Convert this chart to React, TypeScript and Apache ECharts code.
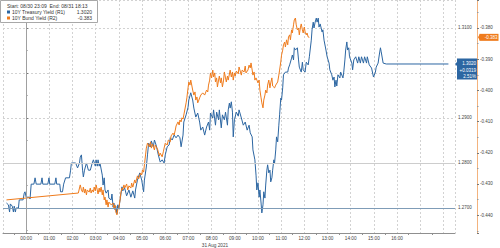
import React, { useEffect, useRef } from "react";
import * as echarts from "echarts";

const startLabel = "Start: 08/30 23:09  End: 08/31 18:13";
const treasuryName = "10Y Treasury Yield (R1)";
const bundName = "10Y Bund Yield (R2)";
const treasuryChange = "+0.0319";
const treasuryPct = "2.51%";
const dateLabel = "31 Aug 2021";

// minutes relative to 00:00 on 31 Aug 2021
const treasuryMinutes = [
  -51, -46, -43, -41, -36, -33, -31, -28, -26, -20, -18, -8, -5, -3, 0, 8, 10, 13, 20, 23, 26, 38, 41, 43, 56, 59, 61, 74, 77, 79, 87, 89, 94, 97, 102,
  112, 115, 117, 128, 133, 138, 140, 143, 146, 148, 151, 156, 161, 166, 171, 174, 179, 181, 184, 186, 189, 191, 197, 199, 202, 204, 207, 212, 214, 220,
  222, 225, 227, 230, 232, 235, 237, 240, 245, 248, 250, 255, 260, 266, 271, 276, 281, 283, 288, 294, 299, 304, 306, 311, 314, 317, 322, 324, 329, 332,
  337, 342, 347, 352, 357, 360, 365, 370, 373, 378, 383, 388, 393, 398, 401, 406, 408, 414, 419, 421, 426, 431, 434, 439, 444, 449, 452, 457, 462, 467,
  472, 475, 477, 483, 485, 490, 493, 498, 500, 505, 508, 513, 516, 521, 523, 526, 528, 531, 534, 536, 539, 544, 549, 551, 557, 562, 567, 572, 577, 580,
  585, 587, 592, 595, 597, 600, 603, 605, 608, 610, 613, 615, 618, 620, 623, 625, 628, 631, 633, 636, 638, 641, 643, 646, 648, 651, 654, 656, 659, 661,
  664, 666, 671, 677, 679, 682, 687, 689, 692, 694, 697, 702, 705, 707, 712, 715, 717, 722, 725, 730, 733, 735, 738, 740, 743, 745, 748, 751, 753, 756,
  758, 761, 766, 768, 771, 776, 779, 784, 786, 791, 794, 797, 799, 802, 804, 807, 812, 814, 820, 822, 825, 827, 830, 832, 835, 837, 843, 845, 848, 853,
  858, 861, 865, 868, 873, 876, 881, 883, 888, 894, 899, 904, 906, 911, 914, 917, 919, 924, 932, 1093,
];
const treasuryYield = [
  1.2711, 1.2707, 1.2691, 1.2709, 1.2704, 1.2691, 1.2704, 1.2691, 1.27, 1.27, 1.2718, 1.2718, 1.2733, 1.2736, 1.2724, 1.2724, 1.272, 1.2753, 1.2753, 1.2767,
  1.2753, 1.2753, 1.2767, 1.2753, 1.2753, 1.2767, 1.2753, 1.2753, 1.2767, 1.2753, 1.2753, 1.2736, 1.2736, 1.2753, 1.2767,
  1.2767, 1.2784, 1.28, 1.28, 1.2789, 1.28, 1.2813, 1.2818, 1.2784, 1.2769, 1.2784, 1.28, 1.2784, 1.2784, 1.28, 1.2807, 1.2793, 1.2807, 1.2793, 1.2807,
  1.2793, 1.28, 1.2773, 1.2751, 1.2767, 1.274, 1.2733, 1.274, 1.2722, 1.2718,
  1.2731, 1.2702, 1.2711, 1.2696, 1.2704, 1.2687, 1.2707, 1.27, 1.2729, 1.2747, 1.2738, 1.2744, 1.2727, 1.274, 1.2724, 1.2738, 1.2722, 1.274, 1.2762, 1.2778,
  1.2762, 1.2736, 1.2762, 1.2791, 1.2818, 1.2844, 1.2836, 1.2849, 1.2836, 1.2851,
  1.2838, 1.2818, 1.2802, 1.2807, 1.28, 1.2818, 1.2836, 1.284, 1.2856, 1.2851, 1.2862, 1.2856, 1.2862, 1.2856, 1.2836, 1.2862, 1.2891, 1.2907, 1.2924, 1.294,
  1.2956, 1.294, 1.2922, 1.2902, 1.2911, 1.2891, 1.2873, 1.288, 1.2862, 1.288,
  1.2891, 1.2873, 1.2911, 1.29, 1.2918, 1.2884, 1.2913, 1.2896, 1.2918, 1.2878, 1.2907, 1.2896, 1.2913, 1.2884, 1.2918, 1.2933, 1.2922, 1.2936, 1.2913, 1.2858,
  1.2896, 1.2913, 1.2904, 1.2918, 1.29, 1.2884, 1.2891, 1.2873, 1.2884, 1.2867,
  1.2858, 1.2829, 1.2807, 1.2773, 1.274, 1.2756, 1.2724, 1.274, 1.2711, 1.2689, 1.2707, 1.2736, 1.2722, 1.2751, 1.2784, 1.2796, 1.2778, 1.2784, 1.2758, 1.2767,
  1.2784, 1.2807, 1.28, 1.2829, 1.2858, 1.2847, 1.2884, 1.2907, 1.2944, 1.294,
  1.2967, 1.2996, 1.3002, 1.3002, 1.3011, 1.3018, 1.3033, 1.304, 1.3029, 1.3056, 1.3051, 1.3056, 1.3029, 1.3013, 1.3002, 1.3024, 1.3007, 1.3002, 1.3024, 1.3018,
  1.3036, 1.3051, 1.3073, 1.3096, 1.3113, 1.31, 1.3113, 1.3122, 1.3113, 1.3122,
  1.3102, 1.3109, 1.3091, 1.3096, 1.3073, 1.3051, 1.3036, 1.3022, 1.3007, 1.2996, 1.2984, 1.2991, 1.2969, 1.2984, 1.2971, 1.2996, 1.2989, 1.3002, 1.2989, 1.3002,
  1.3029, 1.3051, 1.3069, 1.3051, 1.3056, 1.3036, 1.3022, 1.3007, 1.3029, 1.3036,
  1.3022, 1.3036, 1.3022, 1.3036, 1.3022, 1.3036, 1.3022, 1.3036, 1.3018, 1.3011, 1.2991, 1.3002, 1.3013, 1.3022, 1.304, 1.3056, 1.3047, 1.3022, 1.302, 1.302,
];

const bundMinutes = [
  -51, 135, 138, 140, 143, 146, 148, 151, 153, 156, 158, 163, 166, 168, 171, 174, 176, 179, 181, 184, 186, 189, 191, 194, 197, 199, 202, 204, 207, 209, 212,
  214, 220, 225, 227, 230, 232, 235, 237, 240, 243, 245, 248, 250, 253, 255, 260, 263, 266, 271, 273, 276, 281, 283, 288, 291, 296, 299, 301, 304, 306,
  309, 311, 314, 319, 322, 324, 327, 332, 334, 340, 342, 345, 347, 352, 355, 357, 360, 365, 368, 373, 375, 380, 383, 386, 388, 393, 396, 398, 401, 403,
  406, 408, 414, 416, 419, 421, 424, 426, 429, 431, 434, 437, 439, 442, 444, 447, 449, 452, 457, 462, 467, 470, 472, 475, 477, 480, 483, 485, 488, 490,
  493, 495, 498, 500, 503, 505, 508, 511, 513, 516, 518, 521, 523, 528, 531, 534, 536, 539, 541, 544, 549, 551, 557, 559, 564, 567, 569, 574, 577, 580,
  582, 585, 587, 590, 592, 595, 600, 603, 605, 608, 610, 613, 615, 618, 620, 623, 625, 628, 631, 633, 636, 638, 643, 646, 651, 654, 656, 659, 661, 664,
  666, 669, 671, 674, 677, 679, 682, 684, 687, 689, 692, 694, 697, 699, 702, 705, 707, 710, 712, 715, 717, 720, 722, 725, 727, 730, 733,
];
const bundYield = [
  -0.4351, -0.4329, -0.4313, -0.4303, -0.4319, -0.4326, -0.431, -0.4329, -0.4316, -0.4335, -0.4319, -0.4326, -0.4313, -0.4329, -0.4319, -0.4326, -0.431,
  -0.4322, -0.4303, -0.4319, -0.4332, -0.4313, -0.4326, -0.431, -0.4335, -0.4319, -0.4351, -0.4342, -0.4367, -0.4351, -0.4374,
  -0.4358, -0.4367, -0.4361, -0.4377, -0.4367, -0.439, -0.4399, -0.4383, -0.4374, -0.4351, -0.4329, -0.4313, -0.4319, -0.4303, -0.4313, -0.43, -0.4319,
  -0.4306, -0.4313, -0.4297, -0.431, -0.4287, -0.4297, -0.4274, -0.4284, -0.4265, -0.4271, -0.4255, -0.4262, -0.4239,
  -0.4207, -0.4185, -0.4169, -0.4181, -0.4165, -0.4185, -0.4172, -0.4191, -0.4175, -0.4188, -0.4197, -0.421, -0.4201, -0.4213, -0.4197, -0.4185, -0.4169,
  -0.4175, -0.4159, -0.4165, -0.4146, -0.4137, -0.4143, -0.4127, -0.4114, -0.4101, -0.4111, -0.4095, -0.4101, -0.4088,
  -0.4092, -0.4079, -0.404, -0.4024, -0.3992, -0.3973, -0.3983, -0.3967, -0.3986, -0.3999, -0.4015, -0.4005, -0.4031, -0.4021, -0.404, -0.4031, -0.4024,
  -0.4015, -0.4008, -0.4015, -0.3999, -0.4005, -0.3983, -0.3967, -0.3944, -0.396, -0.3935, -0.3957, -0.3944, -0.3973,
  -0.396, -0.3989, -0.3967, -0.3954, -0.3976, -0.396, -0.3989, -0.3967, -0.3941, -0.396, -0.3973, -0.3954, -0.3967, -0.3935, -0.3957, -0.3941, -0.3967,
  -0.3944, -0.3954, -0.3938, -0.3947, -0.3925, -0.3951, -0.3935, -0.3941, -0.3922, -0.3944, -0.3935, -0.3919, -0.3928,
  -0.3912, -0.3935, -0.3951, -0.3941, -0.3967, -0.396, -0.3976, -0.3967, -0.3999, -0.4024, -0.404, -0.4056, -0.4031, -0.4015, -0.3999, -0.4008, -0.3983,
  -0.3967, -0.3992, -0.3976, -0.396, -0.3986, -0.3992, -0.3983, -0.3973, -0.3951, -0.3935, -0.3909, -0.3887, -0.3871,
  -0.3854, -0.3845, -0.3861, -0.3838, -0.3854, -0.3829, -0.3822, -0.3838, -0.3806, -0.3816, -0.379, -0.3774, -0.3768, -0.379, -0.3806, -0.38, -0.3822,
  -0.3797, -0.3787, -0.3806, -0.3816, -0.3797, -0.3813, -0.3822, -0.3816, -0.3829, -0.383,
];

const treasuryPrevClose = 1.27;
const bundPrevClose = 1.2787;

const BLUE = "#2c66a2";
const ORANGE = "#ef7b1c";
const FONT = "'Liberation Sans', Arial, sans-serif";

const pad = (n: number) => (n < 10 ? "0" + n : "" + n);

export default function App() {
  const ref = useRef<HTMLDivElement>(null);
  useEffect(() => {
    if (!ref.current) return;
    const chart = echarts.init(ref.current, undefined, { renderer: "svg" });
    const tData = treasuryMinutes.map((m, i) => [m, treasuryYield[i]]);
    const bData = bundMinutes.map((m, i) => [m, bundYield[i]]);
    const tLast = treasuryYield[treasuryYield.length - 1];
    const bLast = bundYield[bundYield.length - 1];
    const option: any = {
      animation: false,
      backgroundColor: "#ffffff",
      textStyle: { fontFamily: FONT },
      grid: { left: -3.5, right: 45, top: 0, bottom: 15 },
      xAxis: {
        type: "value",
        min: -60,
        max: 1110,
        interval: 60,
        axisLine: { show: true, lineStyle: { color: "#8f8f8f", width: 1 } },
        axisTick: { show: false },
        minorTick: { show: true, splitNumber: 2, length: 2, lineStyle: { color: "#8f8f8f" } },
        minorSplitLine: { show: false },
        axisLabel: {
          fontSize: 4.7,
          color: "#444",
          margin: 3,
          fontFamily: FONT,
          formatter: (v: number) => (v < 0 || v > 960 ? "" : pad(Math.round(v / 60)) + ":00"),
        },
        splitLine: { show: true, lineStyle: { color: "#d2d2d2", type: [2, 2], width: 1 } },
      },
      yAxis: [
        {
          type: "value",
          position: "right",
          min: 1.26444,
          max: 1.31622,
          splitNumber: 5,
          minInterval: 0.01,
          maxInterval: 0.01,
          axisLine: { show: true, lineStyle: { color: "#a6bfd6" } },
          axisTick: { show: true, length: 2, lineStyle: { color: "#777" } },
          minorTick: { show: true, splitNumber: 2, length: 1.5, lineStyle: { color: "#999" } },
          axisLabel: {
            fontSize: 4.5,
            color: "#444",
            margin: 3,
            fontFamily: FONT,
            showMinLabel: false,
            showMaxLabel: false,
            // the last-value tag covers the label that sits under it
            formatter: (v: number) => (Math.abs(v - tLast) < 0.004 ? "" : v.toFixed(4)),
          },
          splitLine: { show: true, lineStyle: { color: "#d2d2d2", type: [2, 2], width: 1 } },
        },
        {
          type: "value",
          position: "right",
          offset: 22,
          min: -0.44571,
          max: -0.37103,
          splitNumber: 7,
          minInterval: 0.01,
          maxInterval: 0.01,
          axisLine: { show: true, lineStyle: { color: "#f3b37e" } },
          axisTick: { show: true, length: 2, lineStyle: { color: "#777" } },
          minorTick: { show: true, splitNumber: 2, length: 1.5, lineStyle: { color: "#999" } },
          axisLabel: {
            fontSize: 4.5,
            color: "#444",
            margin: 3,
            fontFamily: FONT,
            showMinLabel: false,
            showMaxLabel: false,
            formatter: (v: number) => v.toFixed(3),
          },
          splitLine: { show: false },
        },
      ],
      series: [
        {
          type: "line",
          name: treasuryName,
          yAxisIndex: 0,
          data: tData,
          symbol: "none",
          lineStyle: { color: BLUE, width: 1 },
          z: 3,
          markLine: {
            silent: true,
            symbol: "none",
            label: { show: false },
            data: [
              { yAxis: treasuryPrevClose, lineStyle: { color: "#7f9cb7", type: "solid", width: 1 } },
              { yAxis: bundPrevClose, lineStyle: { color: "#cdcdcd", type: "solid", width: 1 } },
              { xAxis: 0, lineStyle: { color: "#a0a0a0", type: "solid", width: 1 } },
            ],
          },
        },
        {
          type: "line",
          name: bundName,
          yAxisIndex: 1,
          data: bData,
          symbol: "none",
          lineStyle: { color: ORANGE, width: 1 },
          z: 4,
        },
      ],
    };
    chart.setOption(option);

    const ty = chart.convertToPixel({ yAxisIndex: 0 }, tLast) as number;
    const by = chart.convertToPixel({ yAxisIndex: 1 }, bLast) as number;
    const txLine = chart.convertToPixel({ xAxisIndex: 0 }, 1110) as number;

    chart.setOption({
      graphic: [
        // legend box
        { type: "rect", shape: { x: 0.5, y: 0.5, width: 97, height: 22 }, style: { fill: "#fff", stroke: "#a8a8a8", lineWidth: 1 }, z: 10 },
        { type: "text", x: 7, y: 6, style: { text: startLabel, fontSize: 5, fill: "#333", fontFamily: FONT, verticalAlign: "middle" }, z: 11 },
        { type: "rect", shape: { x: 7, y: 10.5, width: 3, height: 3 }, style: { fill: BLUE }, z: 11 },
        { type: "text", x: 12, y: 12, style: { text: treasuryName, fontSize: 5, fill: "#333", fontFamily: FONT, verticalAlign: "middle" }, z: 11 },
        { type: "text", x: 92, y: 12, style: { text: tLast.toFixed(4), fontSize: 5, fill: "#333", fontFamily: FONT, align: "right", verticalAlign: "middle" }, z: 11 },
        { type: "rect", shape: { x: 7, y: 16.5, width: 3, height: 3 }, style: { fill: ORANGE }, z: 11 },
        { type: "text", x: 12, y: 18, style: { text: bundName, fontSize: 5, fill: "#333", fontFamily: FONT, verticalAlign: "middle" }, z: 11 },
        { type: "text", x: 92, y: 18, style: { text: bLast.toFixed(3), fontSize: 5, fill: "#333", fontFamily: FONT, align: "right", verticalAlign: "middle" }, z: 11 },
        // date under x axis
        { type: "text", x: 215, y: 245, style: { text: dateLabel, fontSize: 4.7, fill: "#444", fontFamily: FONT, align: "center", verticalAlign: "middle" }, z: 11 },
        // treasury last value tag
        { type: "polygon", shape: { points: [[txLine, ty], [txLine + 2.5, ty - 2.5], [txLine + 2.5, ty + 2.5]] }, style: { fill: BLUE }, z: 11 },
        { type: "rect", shape: { x: txLine + 2, y: ty - 5.5, width: 20, height: 21 }, style: { fill: BLUE }, z: 11 },
        { type: "text", x: txLine + 21, y: ty, style: { text: tLast.toFixed(4), fontSize: 4.5, fill: "#fff", fontFamily: FONT, align: "right", verticalAlign: "middle" }, z: 12 },
        { type: "text", x: txLine + 21, y: ty + 6.5, style: { text: treasuryChange, fontSize: 4.5, fill: "#fff", fontFamily: FONT, align: "right", verticalAlign: "middle" }, z: 12 },
        { type: "text", x: txLine + 21, y: ty + 12.5, style: { text: treasuryPct, fontSize: 4.5, fill: "#fff", fontFamily: FONT, align: "right", verticalAlign: "middle" }, z: 12 },
        // bund last value tag
        { type: "polygon", shape: { points: [[txLine + 23, by], [txLine + 25, by - 3.5], [txLine + 25, by + 3.5]] }, style: { fill: ORANGE }, z: 11 },
        { type: "rect", shape: { x: txLine + 24.5, y: by - 3.5, width: 19, height: 7 }, style: { fill: ORANGE }, z: 11 },
        { type: "text", x: txLine + 42.5, y: by, style: { text: bLast.toFixed(3), fontSize: 4.5, fill: "#fff", fontFamily: FONT, align: "right", verticalAlign: "middle" }, z: 12 },
      ],
    });

    return () => chart.dispose();
  }, []);
  return <div ref={ref} style={{ position: "absolute", left: 0, top: 0, width: 500, height: 248 }} />;
}
